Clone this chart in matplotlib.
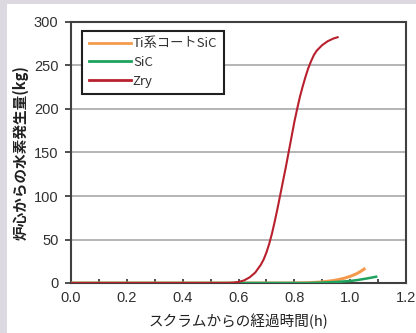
import numpy as np
import matplotlib.pyplot as plt
from matplotlib.patches import Rectangle

# time since scram (h) and hydrogen generated (kg)
t_zry = [0.0, 0.50, 0.56, 0.58, 0.60, 0.62, 0.64, 0.66, 0.68, 0.69, 0.70, 0.71, 0.72, 0.73,
         0.74, 0.75, 0.76, 0.77, 0.78, 0.79, 0.80, 0.81, 0.82, 0.83, 0.84, 0.85, 0.86,
         0.87, 0.88, 0.90, 0.92, 0.94, 0.955]
h_zry = [0.0, 0.0, 0.0, 0.3, 1.2, 3.0, 6.5, 12.0, 21.0, 27.0, 35.0, 45.0, 57.0, 71.0,
         86.0, 102.0, 118.0, 134.0, 151.0, 168.0, 185.0, 200.0, 214.0, 226.0, 237.0, 247.0, 255.0,
         262.0, 267.0, 273.5, 278.0, 281.0, 282.5]

t_ti = [0.0, 0.80, 0.85, 0.88, 0.90, 0.92, 0.94, 0.96, 0.98, 1.00, 1.02, 1.035, 1.05]
h_ti = [0.0, 0.0, 0.3, 0.8, 1.3, 2.0, 2.8, 4.0, 5.6, 7.6, 10.2, 12.8, 16.0]

t_sic = [0.0, 0.85, 0.90, 0.95, 1.00, 1.03, 1.06, 1.093]
h_sic = [0.0, 0.0, 0.5, 1.2, 2.3, 3.6, 5.2, 7.2]

labels = ['Ti系コートSiC', 'SiC', 'Zry']
colors = ['#f39a4c', '#1fa25e', '#b8202e']

plt.rcParams['font.family'] = ['Liberation Sans', 'Noto Sans CJK JP']

fig = plt.figure(figsize=(4.16, 3.33), dpi=100)
fig.patch.set_facecolor('white')
# grey frame on the top and left edge
fig.patches.append(Rectangle((0, 0), 7 / 416, 1, transform=fig.transFigure,
                             facecolor='#dcd9e0', edgecolor='none', zorder=-1))
fig.patches.append(Rectangle((0, 1 - 4 / 333), 1, 4 / 333, transform=fig.transFigure,
                             facecolor='#dcd9e0', edgecolor='none', zorder=-1))

ax = fig.add_axes([71 / 416, 50 / 333, 335 / 416, 261 / 333])

ax.plot(t_ti, h_ti, color=colors[0], lw=2.2, label=labels[0], zorder=3)
ax.plot(t_sic, h_sic, color=colors[1], lw=1.8, label=labels[1], zorder=4)
ax.plot(t_zry, h_zry, color=colors[2], lw=1.5, label=labels[2], zorder=5)

ax.set_xlim(0, 1.2)
ax.set_ylim(0, 300)
ax.set_xticks(np.arange(0, 1.21, 0.2))
ax.set_xticks(np.arange(0, 1.21, 0.1), minor=True)
ax.set_xticklabels(['%.1f' % v for v in np.arange(0, 1.21, 0.2)])
ax.set_yticks(np.arange(0, 301, 50))

ax.yaxis.grid(True, color='#a8a8a8', lw=1.2)
ax.set_axisbelow(True)

for s in ax.spines.values():
    s.set_color('#404040')
    s.set_linewidth(1.5)

ax.tick_params(axis='x', which='both', direction='in', length=3, width=1.2,
               color='#303030', labelsize=10.5, labelcolor='#303030', pad=6)
ax.tick_params(axis='y', direction='out', length=4, width=1.2,
               color='#303030', labelsize=10.5, labelcolor='#303030', pad=5)

ax.set_xlabel('スクラムからの経過時間(h)', fontsize=10.5, color='#202020',
              family=['Noto Sans CJK JP'], labelpad=6)
ax.set_ylabel('炉心からの水素発生量(kg)', fontsize=10.5, color='#202020',
              family=['Noto Sans CJK JP'], fontweight='bold', labelpad=4)

leg = ax.legend(loc='upper left', bbox_to_anchor=(0.033, 0.966), borderaxespad=0,
                fancybox=False, framealpha=1, edgecolor='#202020',
                handlelength=3.2, handletextpad=0.15, labelspacing=0.42,
                borderpad=0.5, prop={'family': ['Noto Sans CJK JP'], 'size': 9.5})
leg.get_frame().set_linewidth(1.5)
for line in leg.get_lines():
    line.set_linewidth(2)
for txt in leg.get_texts():
    txt.set_color('#303030')

fig.savefig('out.png', dpi=100, facecolor=fig.get_facecolor())
